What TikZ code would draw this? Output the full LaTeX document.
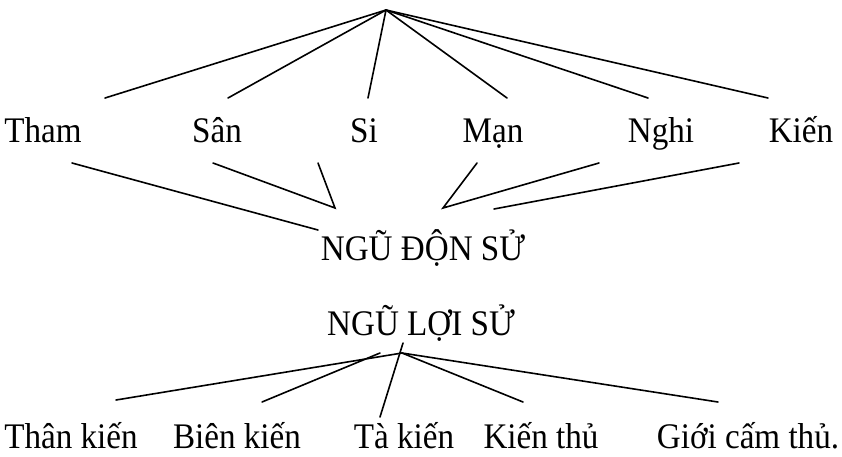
\documentclass[tikz,border=0pt]{standalone}
\usepackage{fontspec}
\setmainfont[FakeStretch=0.92]{Liberation Serif}
\begin{document}
\begin{tikzpicture}[x=1pt,y=-1pt,
  lbl/.style={anchor=base,inner sep=0pt,text depth=0pt,font=\fontsize{36}{40}\selectfont},
  link/.style={line width=1.6pt,line cap=round}]
\useasboundingbox (0,0) rectangle (842,456);

% upper row of terms
\node[lbl] (tham) at (43,142) {Tham};
\node[lbl] (san)  at (217,142) {Sân};
\node[lbl] (si)   at (364,142) {Si};
\node[lbl] (man)  at (493,142) {Mạn};
\node[lbl] (nghi) at (661,142) {Nghi};
\node[lbl] (kien) at (801,142) {Kiến};
\node[lbl] (don)  at (423,260) {NGŨ ĐỘN SỬ};

% lower group
\node[lbl] (loi)  at (421,335) {NGŨ LỢI SỬ};
\node[lbl] (than) at (71,448) {Thân kiến};
\node[lbl] (bien) at (237,448) {Biên kiến};
\node[lbl] (ta)   at (404,448) {Tà kiến};
\node[lbl] (thu)  at (541,448) {Kiến thủ};
\node[lbl] (gioi) at (748,448) {Giới cấm thủ.};

% apex and line ends of the upper fan
\coordinate (top) at (386,10);
\coordinate (t1) at (105,98);
\coordinate (t2) at (228,98);
\coordinate (t3) at (368,98);
\coordinate (t4) at (507,98);
\coordinate (t5) at (648,98);
\coordinate (t6) at (768,98);
\foreach \e in {t1,t2,t3,t4,t5,t6} \draw[link] (top) -- (\e);

% lines converging on NGŨ ĐỘN SỬ
\coordinate (b1) at (72,163);   \coordinate (m1) at (318,230);
\coordinate (b2) at (213,163);  \coordinate (b3) at (318,163);
\coordinate (m2) at (335,208);
\coordinate (b4) at (477,163);  \coordinate (b5) at (599,163);
\coordinate (m3) at (443,208);
\coordinate (b6) at (739,163);  \coordinate (m4) at (494,209);
\draw[link] (b1) -- (m1);
\draw[link] (b2) -- (m2) -- (b3);
\draw[link] (b4) -- (m3) -- (b5);
\draw[link] (b6) -- (m4);

% lower fan under NGŨ LỢI SỬ
\coordinate (lt) at (402,353);
\coordinate (l1) at (116,400);
\coordinate (l2a) at (380,353); \coordinate (l2) at (262,402);
\coordinate (l3a) at (403,343); \coordinate (l3) at (380,417);
\coordinate (l4) at (523,402);
\coordinate (l5) at (718,402);
\draw[link] (lt) -- (l1);
\draw[link] (l2a) -- (l2);
\draw[link] (l3a) -- (l3);
\draw[link] (lt) -- (l4);
\draw[link] (lt) -- (l5);
\end{tikzpicture}
\end{document}
